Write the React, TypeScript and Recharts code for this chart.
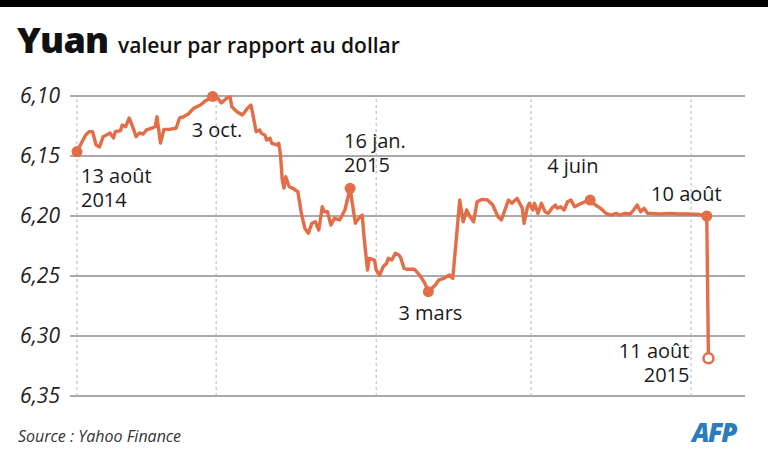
import { ComposedChart, Line, XAxis, YAxis, CartesianGrid, ReferenceLine } from 'recharts'

// jours depuis le 13 août 2014
const days = [
  0, 5, 7, 9, 11, 13, 15, 17, 19, 21, 22, 25, 26, 28, 30, 32, 34, 36, 38, 40,
  43, 45, 46, 48, 50, 53, 57, 59, 61, 64, 67, 71, 74, 78, 81, 83, 86, 88, 89, 92,
  95, 96, 98, 100, 101, 103, 105, 106, 108, 109, 111, 112, 115, 116, 117, 118, 119, 120, 122, 124,
  127, 129, 131, 133, 135, 137, 139, 141, 142, 144, 146, 148, 151, 154, 157, 160, 162, 164, 165, 167,
  168, 171, 172, 174, 176, 178, 179, 181, 183, 185, 186, 188, 190, 194, 197, 200, 202, 206, 208, 211,
  214, 216, 218, 220, 222, 224, 226, 228, 230, 233, 236, 239, 242, 244, 246, 248, 250, 252, 253, 254,
  256, 257, 259, 260, 262, 263, 265, 267, 269, 271, 273, 275, 276, 278, 280, 282, 284, 286, 288, 290,
  292, 295, 298, 301, 304, 307, 310, 312, 315, 318, 320, 322, 324, 326, 328, 330, 335, 341, 346, 352,
  358, 362, 363,
]

// yuans pour un dollar
const rates = [
  6.1463, 6.1325, 6.1298, 6.1298, 6.1408, 6.1425, 6.1339, 6.1325, 6.1308, 6.135, 6.1298, 6.1289, 6.1242, 6.1256, 6.1183, 6.1256, 6.1339, 6.1308, 6.1317, 6.1283,
  6.1267, 6.1256, 6.1173, 6.1392, 6.1278, 6.1278, 6.1269, 6.1183, 6.1175, 6.115, 6.1103, 6.1075, 6.1039, 6.1004, 6.1019, 6.1058, 6.1019, 6.1006, 6.1089, 6.1131,
  6.1158, 6.1142, 6.1103, 6.1075, 6.1144, 6.1298, 6.1283, 6.1311, 6.1325, 6.1367, 6.1353, 6.1394, 6.1408, 6.1394, 6.1492, 6.17, 6.1767, 6.1673, 6.1756, 6.1769,
  6.1798, 6.1978, 6.2103, 6.2144, 6.2061, 6.2048, 6.2117, 6.1923, 6.1964, 6.1964, 6.2075, 6.2019, 6.2033, 6.195, 6.1769, 6.2061, 6.2019, 6.1992, 6.2173, 6.245,
  6.2353, 6.2367, 6.245, 6.2492, 6.2423, 6.2394, 6.2353, 6.2367, 6.2311, 6.2325, 6.2344, 6.2436, 6.2444, 6.2444, 6.2492, 6.2561, 6.2631, 6.2575, 6.2533, 6.2519,
  6.2492, 6.2519, 6.22, 6.1867, 6.2048, 6.195, 6.2006, 6.2048, 6.1881, 6.1861, 6.1867, 6.1908, 6.2006, 6.2033, 6.195, 6.1867, 6.1894, 6.1867, 6.1853, 6.1881,
  6.1936, 6.2061, 6.1923, 6.1894, 6.195, 6.1894, 6.1978, 6.1894, 6.1964, 6.1978, 6.1936, 6.1908, 6.1936, 6.1923, 6.195, 6.1881, 6.1867, 6.1923, 6.1908, 6.1894,
  6.1881, 6.1867, 6.1908, 6.1936, 6.1978, 6.1992, 6.1978, 6.1992, 6.1978, 6.1983, 6.195, 6.1908, 6.1964, 6.1936, 6.1978, 6.1978, 6.1983, 6.1978, 6.1983, 6.1983,
  6.1988, 6.2, 6.3186,
]

const yTicks = [6.1, 6.15, 6.2, 6.25, 6.3, 6.35]
const quarterDays = [0, 80, 172, 261, 353]

const markerDays = [0, 78, 157, 202, 295, 362, 363]
const markerLabels = [
  ['13 août', '2014'],
  ['3 oct.'],
  ['16 jan.', '2015'],
  ['3 mars'],
  ['4 juin'],
  ['10 août'],
  ['11 août', '2015'],
]

// placement des étiquettes par rapport au point
const labelLayout = [
  { dx: 4, dy: 31, anchor: 'start' },
  { dx: -21, dy: 41, anchor: 'start' },
  { dx: -6, dy: -40, anchor: 'start' },
  { dx: 2, dy: 28, anchor: 'middle' },
  { dx: -43, dy: -27, anchor: 'start' },
  { dx: 15, dy: -15, anchor: 'end' },
  { dx: -19, dy: 0, anchor: 'end' },
]

const data = days.map((d, i) => ({ day: d, rate: rates[i] }))

const ORANGE = '#e26d47'
const FONT = '"Open Sans", sans-serif'

function MarkerDot(props: any) {
  const { cx, cy, payload, index } = props
  const m = markerDays.indexOf(payload.day)
  if (m < 0) return <g key={index} />
  const open = m === markerDays.length - 1
  const lay = labelLayout[m]
  return (
    <g key={index}>
      <circle
        cx={cx}
        cy={cy}
        r={open ? 5 : 5.5}
        fill={open ? '#fff' : ORANGE}
        stroke={ORANGE}
        strokeWidth={open ? 2.5 : 0}
      />
      {markerLabels[m].map((t, j) => (
        <text
          key={j}
          x={cx + lay.dx}
          y={cy + lay.dy + j * 24}
          textAnchor={lay.anchor}
          fontFamily={FONT}
          fontSize={20}
          fill="#1a1a1a"
        >
          {t}
        </text>
      ))}
    </g>
  )
}

export default function App() {
  return (
    <div style={{ position: 'absolute', left: 0, top: 0, width: 768, height: 460, background: '#fff' }}>
      <div style={{ position: 'absolute', left: 0, top: 0, width: 768, height: 7, background: '#000' }} />
      <ComposedChart width={768} height={460} data={data} margin={{ top: 96, right: 23, left: 8, bottom: 64 }}>
        <CartesianGrid vertical={false} stroke="#8c8c8c" strokeWidth={1.3} />
        {quarterDays.map((d) => (
          <ReferenceLine key={d} x={d} stroke="#b5b5b5" strokeDasharray="3 3" strokeWidth={1} />
        ))}
        <XAxis dataKey="day" type="number" domain={[-4, 384]} hide />
        <YAxis
          reversed
          domain={[6.1, 6.35]}
          ticks={yTicks}
          width={62}
          axisLine={false}
          tickLine={false}
          tickMargin={4}
          tickFormatter={(v: number) => v.toFixed(2).replace('.', ',')}
          tick={{ fontSize: 21, fontStyle: 'italic', fill: '#222', fontFamily: FONT }}
        />
        <Line
          type="linear"
          dataKey="rate"
          stroke={ORANGE}
          strokeWidth={3.4}
          strokeLinejoin="round"
          dot={MarkerDot}
          activeDot={false}
          isAnimationActive={false}
        />
      </ComposedChart>
      <svg width={768} height={460} style={{ position: 'absolute', left: 0, top: 0, pointerEvents: 'none' }}>
        <text x={17} y={53} fontFamily={FONT} fontWeight={800} fontSize={36} fill="#111" letterSpacing={-0.8}>
          Yuan
        </text>
        <text x={118} y={53} fontFamily={FONT} fontWeight={600} fontSize={21} fill="#111">
          valeur par rapport au dollar
        </text>
        <text x={18} y={442} fontFamily={FONT} fontStyle="italic" fontSize={16} fill="#333">
          Source : Yahoo Finance
        </text>
        <text x={692} y={442} fontFamily={FONT} fontStyle="italic" fontWeight={800} fontSize={26} fill="#2b7bbd" letterSpacing={-1.5}>
          AFP
        </text>
      </svg>
    </div>
  )
}
